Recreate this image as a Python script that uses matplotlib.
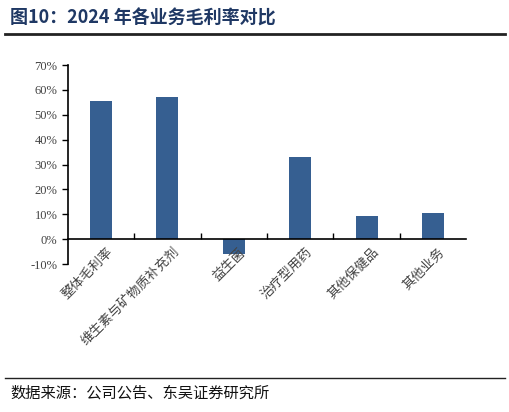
import matplotlib
matplotlib.use("Agg")
import matplotlib.pyplot as plt
from matplotlib.ticker import FuncFormatter

plt.rcParams['font.family'] = ['Noto Sans CJK SC', 'DejaVu Sans']

categories = ["整体毛利率", "维生素与矿物质补充剂", "益生菌", "治疗型用药", "其他保健品", "其他业务"]
margins = [55.4, 57.0, -6.0, 33.0, 9.2, 10.4]
yticks = [-10, 0, 10, 20, 30, 40, 50, 60, 70]

title = "图10：2024 年各业务毛利率对比"
source = "数据来源：公司公告、东吴证券研究所"

fig = plt.figure(figsize=(5.1, 4.12), dpi=100)
ax = fig.add_axes([0.133, 0.359, 0.781, 0.483])

x = list(range(len(categories)))
ax.bar(x, margins, width=0.33, color="#365f91")

ax.set_xlim(-0.5, len(categories) - 0.5)
ax.set_ylim(-10, 70)
ax.set_yticks(yticks)
ax.yaxis.set_major_formatter(FuncFormatter(lambda v, p: f"{v:.0f}%"))
for lab in ax.get_yticklabels():
    lab.set_family("Liberation Serif")
    lab.set_fontsize(9)
    lab.set_color("#444444")

ax.spines[['top', 'right']].set_visible(False)
ax.spines['bottom'].set_position(('data', 0))
ax.set_xticks([i + 0.5 for i in x[:-1]])
ax.set_xticklabels([])
ax.tick_params(axis='x', direction='in', length=4, width=1)
ax.tick_params(axis='y', direction='out', length=4, width=1)
for s in ax.spines.values():
    s.set_linewidth(1.2)

for i, name in zip(x, categories):
    ax.text(i + 0.08, -2.6, name, rotation=45, ha='right', va='top',
            rotation_mode='anchor', fontsize=9.5, color="#444444", fontweight='light')

fig.text(0.02, 0.955, title, fontsize=13, fontweight='bold', color="#1f3864", va='center')
fig.add_artist(plt.Line2D([0.01, 0.99], [0.918, 0.918], color="#222222", lw=2.0))
fig.add_artist(plt.Line2D([0.01, 0.99], [0.083, 0.083], color="#222222", lw=1.0))
fig.text(0.02, 0.045, source, fontsize=11, color="#111111", va='center')

fig.savefig("out.png", dpi=100)
